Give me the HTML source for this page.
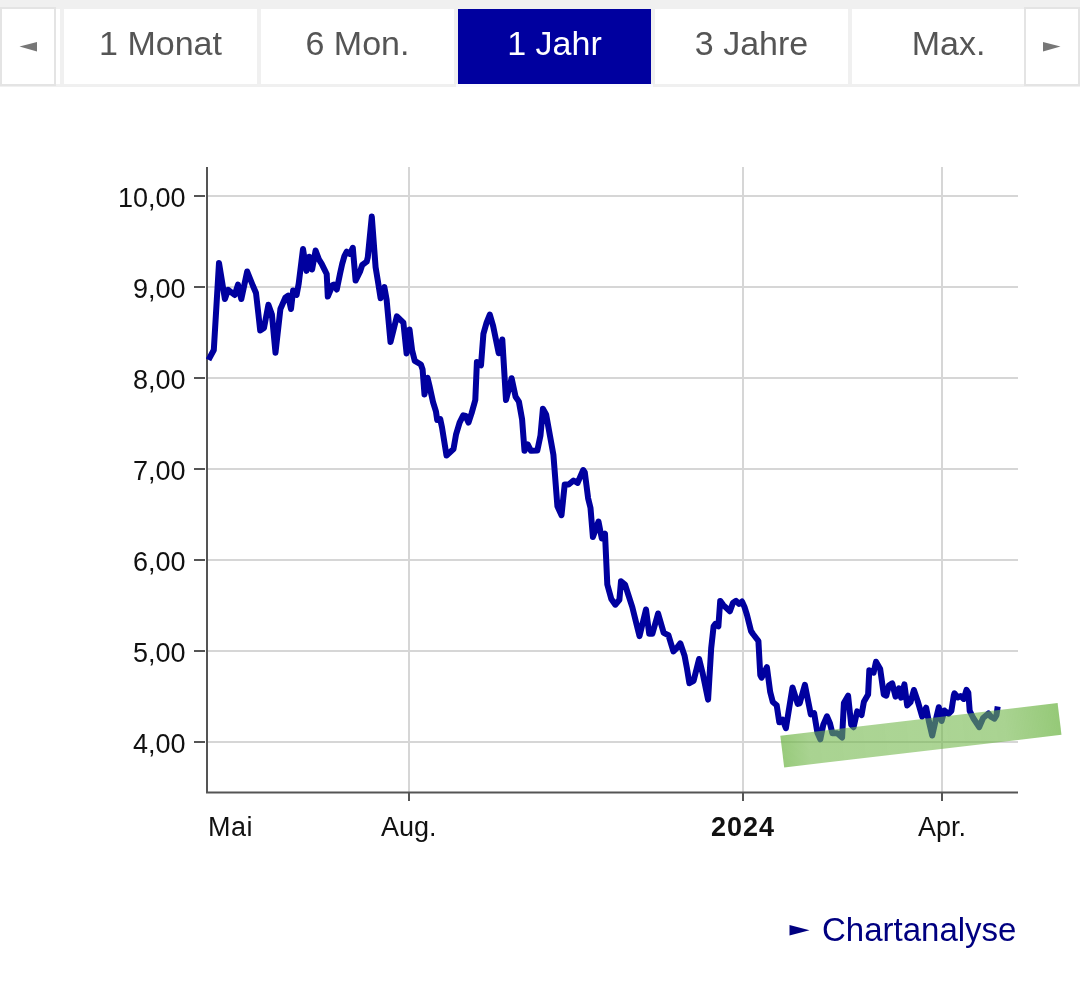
<!DOCTYPE html>
<html lang="de">
<head>
<meta charset="utf-8">
<title>Chart 1 Jahr</title>
<style>
html,body{margin:0;padding:0;background:#fff;}
.btn,.ylab,.xlab,.link{will-change:transform;}
body{width:1080px;height:992px;position:relative;overflow:hidden;font-family:"Liberation Sans",Arial,sans-serif;}
.bar{position:absolute;left:0;top:0;width:1080px;height:87px;background:#f0f0f0;}
.btn{position:absolute;top:9px;height:75px;width:193px;background:#fff;color:#555;font-size:34px;line-height:68px;text-align:center;white-space:nowrap;}
.btn.on{background:#00009f;color:#fff;}
.arr{position:absolute;top:7px;width:52px;height:75px;background:#fff;border:2px solid #e4e4e4;}
.arr svg{position:absolute;left:0;top:0;}
.fill{position:absolute;left:56px;top:9px;width:4px;height:75px;background:#fff;}
svg.chart{position:absolute;left:0;top:0;}
.ylab{position:absolute;right:894px;font-size:27px;color:#111;line-height:30px;text-align:right;}
.xlab{position:absolute;font-size:27px;color:#111;line-height:30px;top:812px;}
.link{position:absolute;left:789px;top:910px;color:#000080;font-size:33px;line-height:40px;white-space:nowrap;}
</style>
</head>
<body>
<div class="bar"></div>
<div class="btn" style="left:64px">1 Monat</div>
<div class="btn" style="left:261px">6 Mon.</div>
<div class="btn on" style="left:458px">1 Jahr</div>
<div class="btn" style="left:655px">3 Jahre</div>
<div class="btn" style="left:852px">Max.</div>
<div class="fill"></div>
<div style="position:absolute;left:456px;top:84px;width:197px;height:3px;background:#fafaff"></div>
<div class="arr" style="left:0"><svg width="52" height="75"><polygon points="17.5,37.5 35,33 35,42.5" fill="#777"/></svg></div>
<div class="arr" style="left:1024px"><svg width="52" height="75"><polygon points="17,33 17,42.5 34.5,37.5" fill="#777"/></svg></div>

<svg class="chart" width="1080" height="992" viewBox="0 0 1080 992">
  <!-- horizontal grid -->
  <g stroke="#d6d6d6" stroke-width="2">
    <line x1="208" y1="196" x2="1018" y2="196"/>
    <line x1="208" y1="287" x2="1018" y2="287"/>
    <line x1="208" y1="378" x2="1018" y2="378"/>
    <line x1="208" y1="469" x2="1018" y2="469"/>
    <line x1="208" y1="560" x2="1018" y2="560"/>
    <line x1="208" y1="651" x2="1018" y2="651"/>
    <line x1="208" y1="742" x2="1018" y2="742"/>
    <line x1="409" y1="167" x2="409" y2="792"/>
    <line x1="743" y1="167" x2="743" y2="792"/>
    <line x1="942" y1="167" x2="942" y2="792"/>
  </g>
  <g stroke="#555" stroke-width="2">
    <line x1="207" y1="167" x2="207" y2="793"/>
    <line x1="206" y1="792.5" x2="1018" y2="792.5"/>
    <line x1="194" y1="196" x2="205" y2="196"/>
    <line x1="194" y1="287" x2="205" y2="287"/>
    <line x1="194" y1="378" x2="205" y2="378"/>
    <line x1="194" y1="469" x2="205" y2="469"/>
    <line x1="194" y1="560" x2="205" y2="560"/>
    <line x1="194" y1="651" x2="205" y2="651"/>
    <line x1="194" y1="742" x2="205" y2="742"/>
    <line x1="409" y1="792" x2="409" y2="801"/>
    <line x1="743" y1="792" x2="743" y2="801"/>
    <line x1="942" y1="792" x2="942" y2="801"/>
  </g>
  <polyline fill="none" stroke="#00009f" stroke-width="6" stroke-linejoin="round" stroke-linecap="butt" points="
208.5,359.9 213.8,350 219,263 224.9,299 228.2,289.8 234.7,295 238,284.6 241.3,299 247.2,271.5 253,286 256,293 258.5,315 260.2,330.5
264,328 268.4,304.8 271.9,314.6 275.5,352.7 280.4,309 285.3,297.7 288.1,295.6 291,309 293.1,290.6 296.6,294.9 298.7,283.6 303,249 306.5,270.9 309.3,256.8 312.1,269.5 315.6,250.5 318.9,259.4 321.7,263.9 324.4,269.4 326.7,274 327.8,296.5 332.6,285 334,284.5
336.8,289.5 340,273.9 342.2,263.9 344.4,256.1 346.7,251.7 350,253.9 352.8,247.8 355.6,280.6 360,271.7 362.2,265 366.7,261.7 367.8,257.2 371.8,216.6 375.6,267.2 377.8,280.6 380.6,298.3 384.4,287.2 386.6,299.5 390.5,342.1 396.9,316.3 403.4,322.7 406.6,353.4 409.5,329.4
412.1,350.3 414.8,360.9 420.9,364.5 422.6,369.5 424.5,394.5 427.5,377.8 429.5,386 433,402 436,411.7 437.2,420 440.2,419 442,427.4 446.5,455.5 453.5,449 456,434.7 459.6,422.6 463.2,415.3 465.6,416 468.5,422.6 471.7,412.9
475.3,400 476.9,362.1 481,365.3 483.4,333.9 486.6,322.6 489.8,314.5 493.1,325.8 498.7,353.2 502.3,339.5 506,400 511.6,378.2 515.6,396.8 518.9,401.6 522.1,419.4 524.5,450.8 527.7,444.4 531,450.8 537.3,450.6 540.5,435.3 542.9,408.7
546.1,414.4 553.4,454.7 557.4,506.3 561.5,515.2 564.7,484.5 568.7,484.5 573.5,480.5 577.6,482.9 583.2,470 584.8,472.4 588.1,498.2 590.5,507.9 592.9,536.9 598.5,521.6 601.8,538.5 605,533.7
607.3,584.5 611.3,599 615.3,604.7 619.4,599.8 621,581.3 625,584.5 632.3,607.1 636.3,623.2 639.5,636.1 646,609.5 649.2,633.7 652.4,633.7 658.1,613.5 663.7,632.9 668.5,635.3 673.4,651.5
676.7,648.1 680.3,643.3 684.5,655.4 687,668.7 689.4,683.2 693.6,680.8 699.1,659 702.7,673.5 708.1,699.6 711.2,648.1 713.6,626.3 715.4,623.9 718.4,626.3 720.2,600.9 723.3,605.1 729.9,611.2 733,602.7 736,600.9 739,603.9 742,601.5 744.5,607 747,615 751,631
753,634 758.4,641 760.3,675.1 761.6,677.7 766.9,667.2 770.2,692.1 772.8,702 776.7,705.2 779.3,722.3 782.6,719.7 785.9,728.2 792.5,687.5 797.7,703.9 799.7,703.3 804.9,684.9 810.8,714.4 814.1,713.1 817.4,732.8 820.3,739.3
823.3,724.7 827,716.3 830,723.5 832.4,733.2 837.2,733.2 842.1,737.5 843.9,703 848.1,695.7 851.2,724.7 853.6,727.2 857.2,711.4 861.5,715.1 863.9,701.7 868.1,694.5 869.3,670.3 873.6,672.7 876,661.8 880.2,669.1 883.8,694.5 886.3,695.7
888.9,685.5 892.2,683.3 895.5,696.6 898.9,688.3 901.1,697.7 904.4,684.4 907.2,705.5 910.5,702.2 913.9,690 917.7,701.1 922.2,716.6 926.1,707.7 928.8,721 932.2,735.5 936,718.8 938.8,707.2 941.6,721 944.4,710.5
948.5,713.8 951.4,710.9 953.8,695.4 954.5,693.3 957.7,697.5 960.5,696.1 963.7,698.9 966.5,689.8 968.3,692.6 969.7,710.9 973.2,718 979.2,727.2 983.1,718 988.4,713.4 990.9,716.6 994.4,718.7 996.5,715.2 997.7,706.5"/>
  <defs><linearGradient id="hl" gradientUnits="userSpaceOnUse" x1="782" y1="751" x2="1060" y2="719">
    <stop offset="0" stop-color="rgb(112,182,72)" stop-opacity="0.72"/>
    <stop offset="0.1" stop-color="rgb(112,182,72)" stop-opacity="0.6"/>
    <stop offset="0.5" stop-color="rgb(112,182,72)" stop-opacity="0.58"/>
    <stop offset="0.8" stop-color="rgb(112,182,72)" stop-opacity="0.6"/>
    <stop offset="1" stop-color="rgb(112,182,72)" stop-opacity="0.74"/>
  </linearGradient></defs>
  <polygon points="780.3,735.8 1057.6,703 1061.5,734.8 784.2,767.4" fill="url(#hl)"/>
</svg>

<div class="ylab" style="top:183px">10,00</div>
<div class="ylab" style="top:274px">9,00</div>
<div class="ylab" style="top:365px">8,00</div>
<div class="ylab" style="top:456px">7,00</div>
<div class="ylab" style="top:547px">6,00</div>
<div class="ylab" style="top:638px">5,00</div>
<div class="ylab" style="top:729px">4,00</div>

<div class="xlab" style="left:208px;letter-spacing:0.5px">Mai</div>
<div class="xlab" style="left:381px">Aug.</div>
<div class="xlab" style="left:711px;font-weight:bold;letter-spacing:1px">2024</div>
<div class="xlab" style="left:918px">Apr.</div>

<div class="link"><svg width="21" height="12" style="vertical-align:middle;margin-right:12px;position:relative;top:-1px"><polygon points="0.5,0 0.5,10.5 20.5,5.2" fill="#000080"/></svg>Chartanalyse</div>
</body>
</html>
